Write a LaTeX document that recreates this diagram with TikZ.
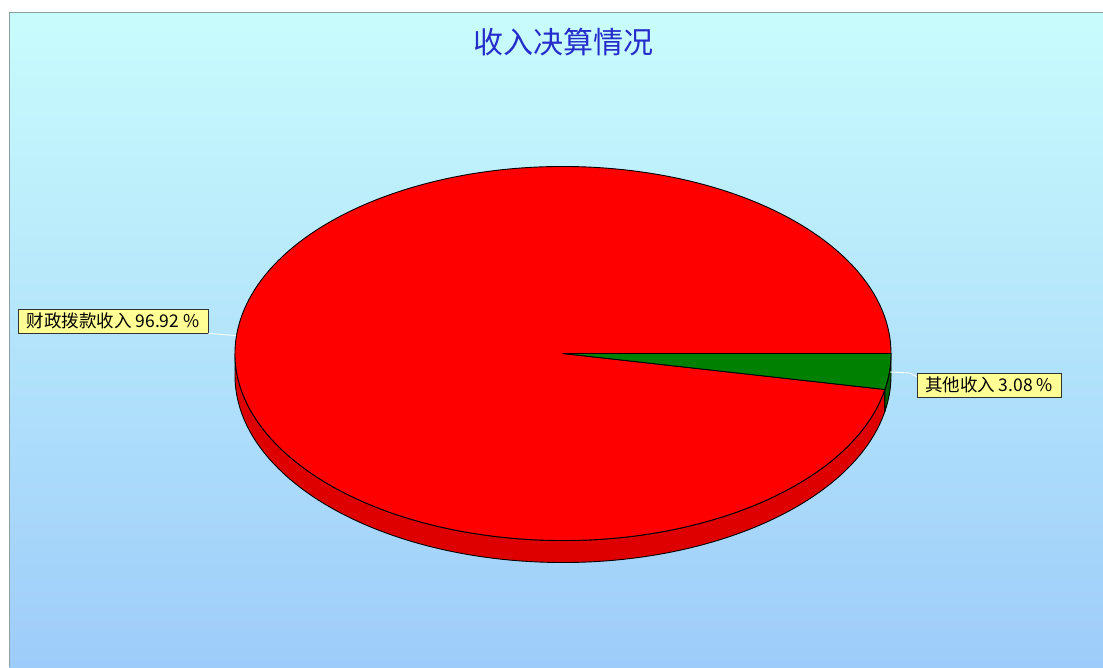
\documentclass[tikz,border=0pt]{standalone}
\usepackage{fontspec}
\setmainfont{Noto Sans CJK SC}
\definecolor{bgtop}{RGB}{200,252,252}
\definecolor{bgbot}{RGB}{158,204,250}
\definecolor{framegray}{RGB}{140,160,160}
\definecolor{titleblue}{RGB}{36,44,204}
\definecolor{topred}{RGB}{255,0,0}
\definecolor{sidered}{RGB}{222,0,0}
\definecolor{topgreen}{RGB}{0,128,0}
\definecolor{sidegreen}{RGB}{0,96,0}
\definecolor{labelyellow}{RGB}{255,255,150}
\tikzset{
  pieedge/.style={draw=black,line width=0.9pt,line join=round},
  labelbox/.style={draw=black!80,line width=0.8pt,fill=labelyellow,inner sep=0pt,minimum height=24pt,font=\fontsize{17.5}{19}\selectfont,text=black},
  leader/.style={draw=white,line width=0.9pt}
}
\begin{document}
\begin{tikzpicture}[x=1pt,y=-1pt]
\def\cx{563}\def\cy{353.5}\def\rx{328}\def\ry{187}\def\dep{22}\def\ga{11.09}
\useasboundingbox (0,0) rectangle (1103,667);
\fill[white] (0,0) rectangle (1103,667);
\shade[top color=bgtop,bottom color=bgbot] (9,12) rectangle (1103,667);
\draw[framegray,line width=1pt] (9,667) -- (9,12) -- (1103,12);
% title
\node[font=\fontsize{30}{34}\selectfont,text=titleblue] (title) at (563,42) {收入决算情况};
% side of the pie
\fill[sidered,pieedge] ({\cx+\rx*cos(\ga)},{\cy+\ry*sin(\ga)}) arc[start angle=\ga,end angle=180,x radius=\rx,y radius=\ry] -- ++(0,\dep) arc[start angle=180,end angle=\ga,x radius=\rx,y radius=\ry] -- cycle;
\fill[sidegreen,pieedge] ({\cx+\rx},{\cy}) arc[start angle=0,end angle=\ga,x radius=\rx,y radius=\ry] -- ++(0,\dep) arc[start angle=\ga,end angle=0,x radius=\rx,y radius=\ry] -- cycle;
% top of the pie
\coordinate (c) at (\cx,\cy);
\fill[topred,pieedge] (c) -- ({\cx+\rx*cos(\ga)},{\cy+\ry*sin(\ga)}) arc[start angle=\ga,end angle=360,x radius=\rx,y radius=\ry] -- cycle;
\fill[topgreen,pieedge] (c) -- ({\cx+\rx},{\cy}) arc[start angle=0,end angle=\ga,x radius=\rx,y radius=\ry] -- cycle;
% labels
\node[labelbox,minimum width=190pt] (L) at (113,321) {财政拨款收入 96.92 \%};
\node[labelbox,minimum width=144pt] (R) at (989,385) {其他收入 3.08 \%};
\coordinate (lp) at (236,335.5);
\coordinate (rp) at (890,372);
\coordinate (rk) at (910,373);
\draw[leader] (L.south east) -- (lp);
\draw[leader] (rp) -- (rk) -- ([yshift=-4pt]R.north west);
\end{tikzpicture}
\end{document}
